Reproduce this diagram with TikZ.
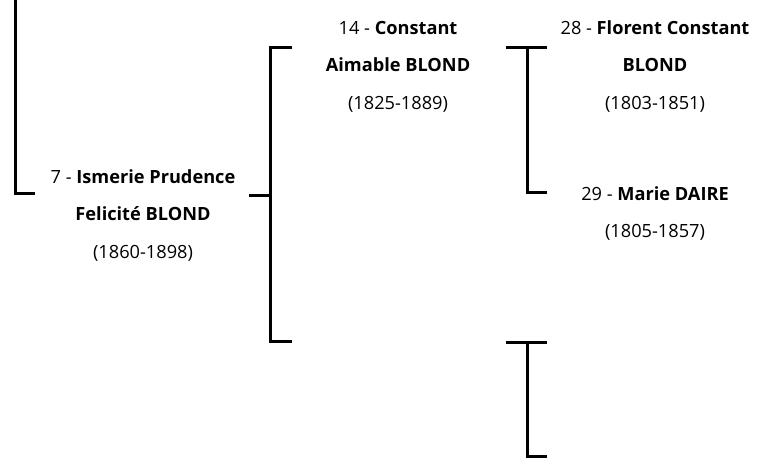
\documentclass[tikz,border=0pt]{standalone}
\usepackage{fontspec}
\setmainfont{Open Sans}
\usepackage{tikz}

\begin{document}
\begin{tikzpicture}[x=1pt,y=-1pt,
		person/.style={align=center,inner sep=0pt,font=\fontsize{18.2}{37.5}\selectfont},
		bracket/.style={line width=3pt}]
		\useasboundingbox (0,0) rectangle (766,459);
		%
		\node[person] (P7) at (143,215.5) {7 - \textbf{Ismerie Prudence}\\\textbf{Felicité BLOND}\\(1860-1898)};
		\node[person] (P14) at (398,66.5) {14 - \textbf{Constant}\\\textbf{Aimable BLOND}\\(1825-1889)};
		\node[person] (P28) at (655,66.5) {28 - \textbf{Florent Constant}\\\textbf{BLOND}\\(1803-1851)};
		\node[person] (P29) at (655,213.5) {29 - \textbf{Marie DAIRE}\\(1805-1857)};
		%
		\coordinate (A) at (15,0);
		\coordinate (A') at (15,193);
		\coordinate (A'') at (35,193);
		\coordinate (B) at (249,195);
		\coordinate (B') at (270,195);
		\coordinate (C) at (292,47);
		\coordinate (C') at (270,47);
		\coordinate (C'') at (270,341);
		\coordinate (C''') at (292,341);
		\coordinate (D) at (506,47);
		\coordinate (D') at (527,47);
		\coordinate (D'') at (547,47);
		\coordinate (E) at (527,192);
		\coordinate (E') at (547,192);
		\coordinate (F) at (506,342);
		\coordinate (F') at (527,342);
		\coordinate (F'') at (547,342);
		\coordinate (G) at (527,456);
		\coordinate (G') at (547,456);
		%
		\path[bracket,draw]
		% father's side
		(A) -- (A') -- (A'')
		% parents of 7
		(B) -- (B')
		(C) -- (C') -- (C'') -- (C''')
		% parents of 14
		(D) -- (D'')
		(D') -- (E) -- (E')
		% parents of 15
		(F) -- (F'')
		(F') -- (G) -- (G');
\end{tikzpicture}
\end{document}
